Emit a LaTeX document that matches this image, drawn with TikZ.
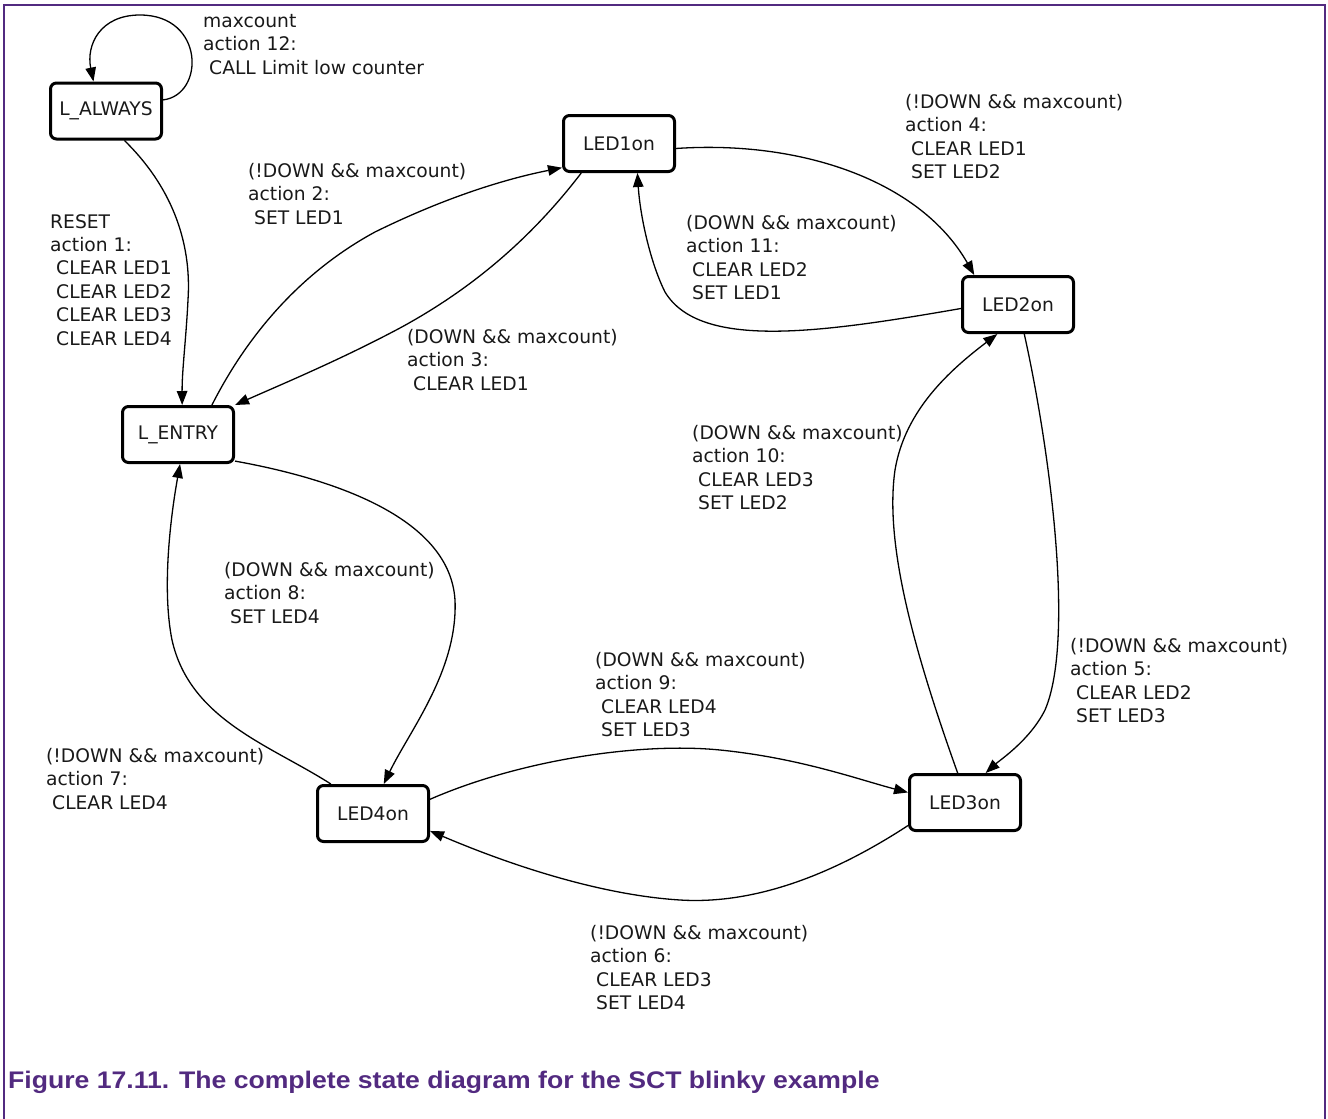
\documentclass[tikz,border=0pt]{standalone}
\usepackage{fontspec}
\setmainfont{DejaVu Sans}
\newfontfamily\capfont{Liberation Sans}
\usetikzlibrary{arrows.meta}
\definecolor{nxppurple}{RGB}{82,42,128}
\definecolor{ink}{RGB}{25,25,25}
\newcommand\ind{\hspace*{6pt}}
\begin{document}
\begin{tikzpicture}[x=1pt,y=-1pt,
  state/.style={draw=black, line width=3pt, rounded corners=6pt, minimum width=111pt, minimum height=56pt, inner sep=0pt, font=\fontsize{18.7}{23.4}\selectfont, text=ink},
  lbl/.style={anchor=north west, align=left, inner sep=0pt, font=\fontsize{18.7}{23.4}\selectfont, text=ink},
  edge/.style={line width=1.3pt, draw=black, -{Triangle[length=14pt,width=10.5pt]}}]
\useasboundingbox (0,0) rectangle (1328,1119);
% frame
\draw[nxppurple, line width=2pt] (4,1119) -- (4,5) -- (1325,5) -- (1325,1119);
% states
\node[state] (la)    at (106,111)   {L\_ALWAYS};
\node[state] (le)    at (178,434.5) {L\_ENTRY};
\node[state] (l1)    at (619,143.5) {LED1on};
\node[state] (l2)    at (1018,304.5) {LED2on};
\node[state] (l3)    at (965,802.5) {LED3on};
\node[state] (l4)    at (373,813.5) {LED4on};
% labels
\node[lbl] (t12) at (203,14) {maxcount\\action 12:\\\ind CALL Limit low counter};
\node[lbl] (t1) at (50,214) {RESET\\action 1:\\\ind CLEAR LED1\\\ind CLEAR LED2\\\ind CLEAR LED3\\\ind CLEAR LED4};
\node[lbl] (t2) at (248,163) {(!DOWN \&\& maxcount)\\action 2:\\\ind SET LED1};
\node[lbl] (t3) at (407,329) {(DOWN \&\& maxcount)\\action 3:\\\ind CLEAR LED1};
\node[lbl] (t4) at (905,94) {(!DOWN \&\& maxcount)\\action 4:\\\ind CLEAR LED1\\\ind SET LED2};
\node[lbl] (t11) at (686,215) {(DOWN \&\& maxcount)\\action 11:\\\ind CLEAR LED2\\\ind SET LED1};
\node[lbl] (t5) at (1070,638) {(!DOWN \&\& maxcount)\\action 5:\\\ind CLEAR LED2\\\ind SET LED3};
\node[lbl] (t10) at (692,425) {(DOWN \&\& maxcount)\\action 10:\\\ind CLEAR LED3\\\ind SET LED2};
\node[lbl] (t9) at (595,652) {(DOWN \&\& maxcount)\\action 9:\\\ind CLEAR LED4\\\ind SET LED3};
\node[lbl] (t6) at (590,925) {(!DOWN \&\& maxcount)\\action 6:\\\ind CLEAR LED3\\\ind SET LED4};
\node[lbl] (t8) at (224,562) {(DOWN \&\& maxcount)\\action 8:\\\ind SET LED4};
\node[lbl] (t7) at (46,748) {(!DOWN \&\& maxcount)\\action 7:\\\ind CLEAR LED4};
% caption
\node[anchor=base west, inner sep=0pt, text=nxppurple, font=\capfont\bfseries\fontsize{24}{28}\selectfont] (cap) at (8,1088) {\scalebox{1.108}[1]{Figure 17.11. The complete state diagram for the SCT blinky example}};
% edges
\draw[edge] (la.11) .. controls (205,95) and (205,15) .. (140,15) .. controls (100,15) and (86,45) .. (la.113);
\draw[edge] (la.-58) .. controls (170,185) and (192,240) .. (188,300) .. controls (186,340) and (182,370) .. (le.82);
\draw[edge] (le.41) .. controls (250,330) and (305,270) .. (375,232) .. controls (440,200) and (500,180) .. (l1.203);
\draw[edge] (l1.218) .. controls (530,240) and (470,290) .. (400,328) .. controls (340,360) and (280,385) .. (le.north east);
\draw[edge] (l1.-5) .. controls (800,140) and (920,180) .. (l2.146);
\draw[edge] (l2.184) .. controls (820,333) and (700,350) .. (665,292) .. controls (650,262) and (640,215) .. (l1.-58);
\draw[edge] (l2.-78) .. controls (1050,450) and (1075,640) .. (1045,710) .. controls (1030,740) and (1000,760) .. (l3.55);
\draw[edge] (l3.104) .. controls (910,640) and (885,540) .. (895,470) .. controls (905,410) and (950,370) .. (l2.235);
\draw[edge] (l4.14) .. controls (520,760) and (640,742) .. (720,750) .. controls (800,758) and (860,780) .. (l3.170);
\draw[edge] (l3.202) .. controls (840,870) and (760,905) .. (680,900) .. controls (600,895) and (510,865) .. (l4.-17);
\draw[edge] (le.-25) .. controls (340,480) and (450,520) .. (455,600) .. controls (458,670) and (410,730) .. (l4.70);
\draw[edge] (l4.145) .. controls (270,745) and (190,720) .. (172,640) .. controls (162,590) and (170,520) .. (le.-86);
\end{tikzpicture}
\end{document}
